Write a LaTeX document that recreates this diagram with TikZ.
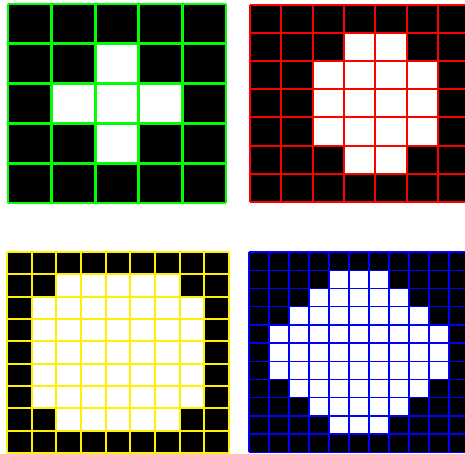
\documentclass[tikz,border=0pt]{standalone}
\usetikzlibrary{calc}

\begin{document}
\begin{tikzpicture}[x=1pt,y=-1pt]
    \useasboundingbox (0,0) rectangle (465,453);

    % one binary mask: black cells, white runs, coloured grid lines
    % #1,#2 top-left corner, #3 cells per side, #4,#5 cell size,
    % #6 line colour, #7 line width, #8 white runs row/first/last
    \def\maskgrid#1#2#3#4#5#6#7#8{%
      \fill[black] (#1,#2) rectangle ({#1+#3*#4},{#2+#3*#5});
      \foreach \r/\a/\b in {#8} {
        \fill[white] ({#1+\a*#4},{#2+\r*#5}) rectangle ({#1+(\b+1)*#4},{#2+(\r+1)*#5});
      }
      \foreach \i in {0,...,#3} {
        \draw[#6, line width=#7] ({#1+\i*#4},#2) -- ({#1+\i*#4},{#2+#3*#5});
        \draw[#6, line width=#7] (#1,{#2+\i*#5}) -- ({#1+#3*#4},{#2+\i*#5});
      }
    }

    % 5x5 mask, green
    \maskgrid{8}{4}{5}{43.6}{39.8}{green}{2.8pt}{1/2/2, 2/1/3, 3/2/2}

    % 7x7 mask, red
    \maskgrid{250}{5}{7}{31.3}{28.1}{red}{2pt}{1/3/4, 2/2/5, 3/2/5, 4/2/5, 5/3/4}

    % 9x9 mask, yellow
    \maskgrid{7}{252}{9}{24.67}{22.33}{yellow}{1.8pt}{1/2/6, 2/1/7, 3/1/7, 4/1/7, 5/1/7, 6/1/7, 7/2/6}

    % 11x11 mask, blue
    \maskgrid{249}{252}{11}{20}{18.2}{blue}{1.4pt}{1/4/6, 2/3/7, 3/2/8, 4/1/9, 5/1/9, 6/1/9, 7/2/8, 8/3/7, 9/4/6}
\end{tikzpicture}
\end{document}
